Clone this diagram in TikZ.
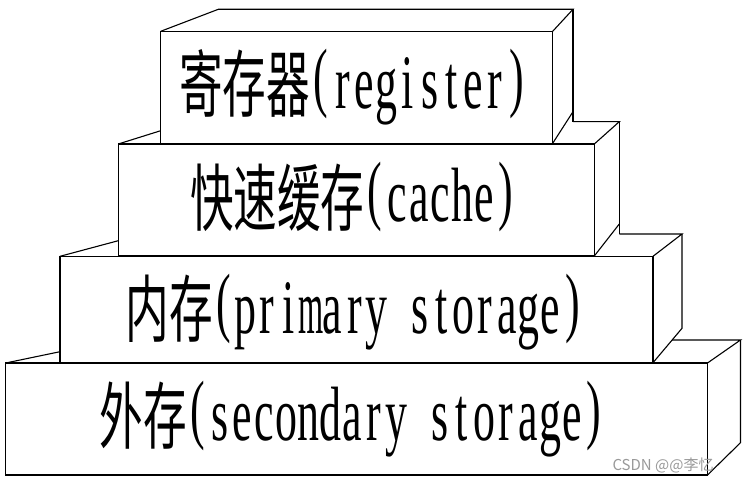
\documentclass[tikz,border=0pt]{standalone}
\usepackage{fontspec}
\usepackage{graphicx}
\setmainfont{Liberation Serif}
\newfontfamily\cjk{Noto Sans CJK SC}
\newfontfamily\wmfont{Noto Sans CJK SC}
\newlength\cw
\setlength\cw{21.8pt}
% one Chinese character in a double cell
\newcommand\Cc[1]{\makebox[2\cw][c]{\raisebox{-3.5pt}{\scalebox{1}[1.68]{\cjk\fontsize{43.6}{50}\selectfont #1}}}}
% one Latin character in a single cell
\newcommand\Lc[2][0.57]{\makebox[\cw][c]{\scalebox{#1}[1]{\fontsize{77}{80}\selectfont #2}}}
\newcommand\Pc[1]{\makebox[\cw][c]{\raisebox{6pt}{\scalebox{0.57}[1]{\fontsize{77}{80}\selectfont #1}}}}
\makeatletter
\def\lat#1{\lat@#1\@nil}
\def\lat@#1{\ifx#1\@nil\else\lat@one{#1}\expandafter\lat@\fi}
\def\lat@one#1{%
  \ifx#1m\Lc[0.42]{m}\else
  \ifx#1(\Pc{(}\else
  \ifx#1)\Pc{)}\else
  \ifx#1~\makebox[\cw]{}\else
  \Lc{#1}\fi\fi\fi\fi}
\makeatother
\begin{document}
\begin{tikzpicture}[x=1pt,y=-1pt,line width=1.1pt,
  face/.style={draw=black,inner sep=0,outer sep=0,anchor=north west},
  lbl/.style={inner sep=0,outer sep=0,anchor=base west},
  wm/.style={inner sep=0,anchor=south west,text=black!40,font=\wmfont\fontsize{15}{15}\selectfont}]
\fill[white] (0,0) rectangle (747,484);
\useasboundingbox (0,0) rectangle (747,484);
% front faces
\node[face,minimum width=392pt,minimum height=112pt] (f1) at (160.7,31.3) {};
\node[face,minimum width=476pt,minimum height=112pt] (f2) at (118.3,144) {};
\node[face,minimum width=593pt,minimum height=106.4pt] (f3) at (60,256.3) {};
\node[face,minimum width=701.8pt,minimum height=112pt] (f4) at (5.7,363) {};
% back corners
\coordinate (b1tl) at (218.3,9.3);
\coordinate (b1tr) at (573,9.3);
\coordinate (b1br) at (573,111.7);
\coordinate (b1v)  at (573,121.7);
\coordinate (b2l)  at (160.7,130.7);
\coordinate (b2tr) at (619.3,121.7);
\coordinate (b2br) at (619.3,224);
\coordinate (b2v)  at (619.3,234);
\coordinate (b3l)  at (118.3,240.7);
\coordinate (b3tr) at (682,234);
\coordinate (b3br) at (682,328.3);
\coordinate (b4l)  at (60,351.7);
\coordinate (b4tl) at (672.2,340);
\coordinate (b4tr) at (740.5,340);
\coordinate (b4br) at (740.5,442.7);
% box 1
\draw (f1.north west) -- (b1tl) -- (b1tr) -- (f1.north east);
\draw (b1tr) -- (b1v);
\draw (b1br) -- (f1.south east);
% box 2
\draw (f2.north west) -- (b2l);
\draw (b1v) -- (b2tr) -- (f2.north east);
\draw (b2tr) -- (b2v);
\draw (b2br) -- (f2.south east);
% box 3
\draw (f3.north west) -- (b3l);
\draw (b2v) -- (b3tr) -- (f3.north east);
\draw (b3tr) -- (b3br) -- (f3.south east);
% box 4
\draw (f4.north west) -- (b4l);
\draw (b4tl) -- (b4tr) -- (f4.north east);
\draw (b4tr) -- (b4br) -- (f4.south east);
% labels
\node[lbl] (t1) at (179,108.3) {\Cc{寄}\Cc{存}\Cc{器}\lat{(register)}};
\node[lbl] (t2) at (190,221.6) {\Cc{快}\Cc{速}\Cc{缓}\Cc{存}\lat{(cache)}};
\node[lbl] (t3) at (125.5,333.3) {\Cc{内}\Cc{存}\lat{(primary~storage)}};
\node[lbl] (t4) at (99,440) {\setlength\cw{22pt}\Cc{外}\Cc{存}\lat{(secondary~storage)}};
\node[wm] (wmk) at (612,474) {CSDN @@李忆};
\end{tikzpicture}
\end{document}
